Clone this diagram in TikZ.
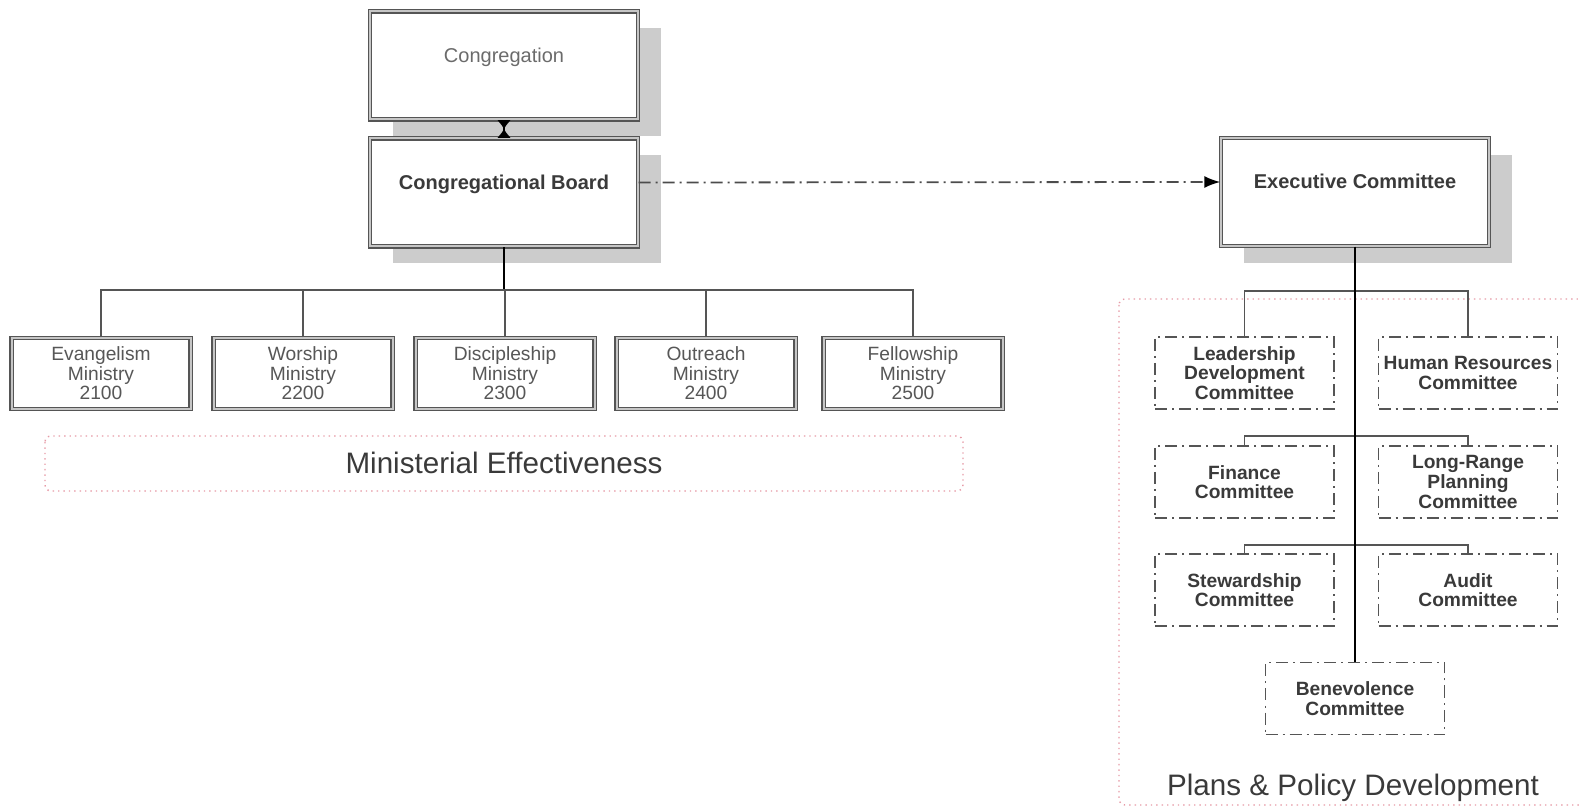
\documentclass[tikz,border=0pt]{standalone}
\usepackage{fontspec}
\setmainfont{Liberation Sans}
\usetikzlibrary{arrows.meta,shadows}
\definecolor{txtgray}{HTML}{3A3A3A}
\definecolor{linegray}{HTML}{555555}
\definecolor{regionpink}{HTML}{E69AA6}

\tikzset{
  mainbox/.style={draw=linegray, line width=0.7pt, double=gray!45, double distance=1pt,
    fill=white, minimum width=134pt, minimum height=54pt, text height=7pt, text depth=10pt,
    font=\fontsize{10}{12}\selectfont, text=txtgray,
    drop shadow={shadow xshift=11.5pt, shadow yshift=-8.5pt, fill=gray!40, opacity=1}},
  ministry/.style={draw=linegray, line width=0.7pt, double=gray!45, double distance=1pt,
    fill=white, minimum width=89.5pt, minimum height=35.5pt, align=center, inner sep=1pt,
    font=\fontsize{9.6}{9.8}\selectfont, text=txtgray!85},
  committee/.style={draw=linegray, line width=0.9pt, dash pattern=on 6pt off 2.5pt on 1pt off 2.5pt,
    fill=white, minimum width=89.5pt, minimum height=36pt, align=center, inner sep=0pt,
    font=\fontsize{9.6}{9.8}\selectfont\bfseries, text=txtgray},
  region/.style={draw=regionpink, dotted, line width=0.7pt, rounded corners=3pt},
  regionlbl/.style={font=\fontsize{14.8}{16}\selectfont, text=txtgray},
  flow/.style={draw=gray!60!black, line width=0.9pt, dash pattern=on 6pt off 2.5pt on 1pt off 2.5pt,
    -{Latex[length=8pt,width=6pt,black]}},
  bowtie/.style={line width=1pt, {Latex[reversed,length=4.5pt,width=7pt]}-{Latex[reversed,length=4.5pt,width=7pt]}},
  mbus/.style={draw=linegray, line width=0.8pt},
  cbus/.style={draw=linegray, line width=0.9pt}
}

\begin{document}
\begin{tikzpicture}[x=0.5pt,y=-0.5pt]
  \useasboundingbox (0,0) rectangle (1581,807);

  \draw[region] (45,436) rectangle (963,491);
  \node[regionlbl] (melbl) at (504,463) {Ministerial Effectiveness};
  \draw[region] (1119,299) rectangle (1600,805);
  \node[regionlbl] (pplbl) at (1353,788) {Plans \& Policy Development};

  \node[mainbox, text=txtgray!75, font=\fontsize{10}{12}\selectfont] (cong) at (504,65.5) {Congregation};
  \node[mainbox, font=\fontsize{10}{12}\selectfont\bfseries] (board) at (504,192.5) {Congregational Board};
  \node[mainbox, font=\fontsize{10}{12}\selectfont\bfseries] (exec) at (1355,192) {Executive Committee};

  \draw[bowtie] (cong.south) -- (board.north);
  \draw[flow] ([yshift=5pt]board.east) -- ([yshift=5pt]exec.west);

  \foreach \n/\x/\name/\num in {evang/101/Evangelism/2100, worship/303/Worship/2200,
      discip/505/Discipleship/2300, outreach/706/Outreach/2400, fellow/913/Fellowship/2500}
    \node[ministry] (\n) at (\x,373.5) {\name\\Ministry\\\num};

  \coordinate (mb) at (504,290);
  \draw[line width=1.1pt] (board.south) -- (mb);
  \draw[mbus] (evang.north) |- (mb) -| (fellow.north);
  \foreach \n in {worship,discip,outreach}
    \draw[mbus] (\n.north) -- (\n.north |- mb);

  \node[committee] (lead) at (1244.5,373) {Leadership\\Development\\Committee};
  \node[committee] (hr) at (1468,373) {Human Resources\\Committee};
  \node[committee] (fin) at (1244.5,482) {Finance\\Committee};
  \node[committee] (lrp) at (1468,482) {Long-Range\\Planning\\Committee};
  \node[committee] (stew) at (1244.5,590) {Stewardship\\Committee};
  \node[committee] (audit) at (1468,590) {Audit\\Committee};
  \node[committee] (bene) at (1355,698.5) {Benevolence\\Committee};

  \coordinate (cb1) at (1355,291);
  \coordinate (cb2) at (1355,436);
  \coordinate (cb3) at (1355,545);
  \draw[cbus] (lead.north) |- (cb1) -| (hr.north);
  \draw[cbus] (fin.north) |- (cb2) -| (lrp.north);
  \draw[cbus] (stew.north) |- (cb3) -| (audit.north);
  \draw[line width=1.2pt] (exec.south) -- (bene.north);
\end{tikzpicture}
\end{document}
